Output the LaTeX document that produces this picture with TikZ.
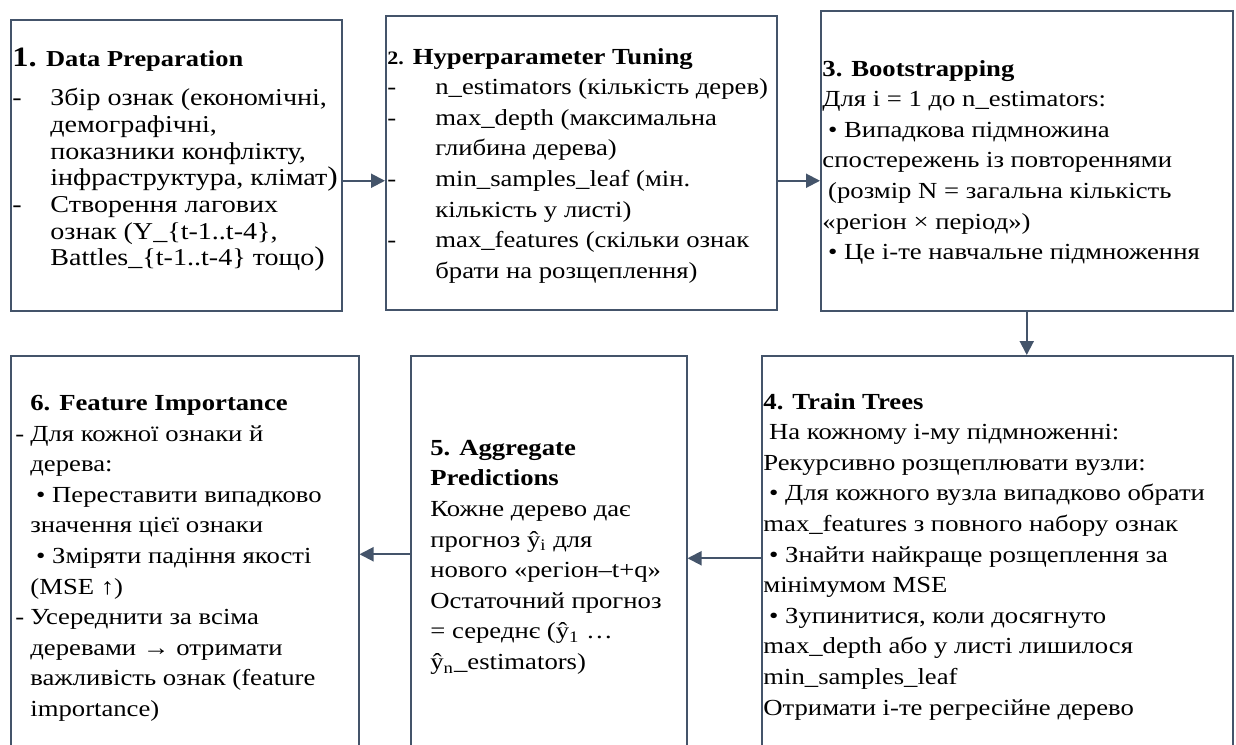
\documentclass[tikz,border=0pt]{standalone}
\usepackage{fontspec}
\setmainfont{Liberation Serif}[FakeStretch=1.16]
\usetikzlibrary{arrows.meta,calc}

\definecolor{flowline}{HTML}{44546A}
\newcommand\dashtab[1]{\makebox[#1][l]{-}}
\newcommand\tabgap[1]{\hspace*{#1}}
\newcommand\lsp{\hspace*{2.9pt}}
\newcommand\bigparen{{\fontsize{13.5}{13.5}\selectfont)}}

\begin{document}
\begin{tikzpicture}[x=1pt,y=-1pt,>={Triangle[length=7pt,width=7pt]},
    stage/.style={draw=flowline,line width=0.75pt,inner sep=0pt,anchor=north west},
    body/.style={align=left,inner sep=0pt,anchor=north west,font=\fontsize{11.5}{15.3}\selectfont},
    flow/.style={->,draw=flowline,line width=1pt}]
  \useasboundingbox (0,0) rectangle (618,372);
  % top row
  \node[stage,minimum width=165.5pt,minimum height=145.5pt] (box1) at (5,9.5) {};
  \node[stage,minimum width=195.5pt,minimum height=147pt] (box2) at (192.5,7.5) {};
  \node[stage,minimum width=206pt,minimum height=150pt] (box3) at (410,5) {};
  % bottom row
  \node[stage,minimum width=174pt,minimum height=202.5pt] (box6) at (5,177.5) {};
  \node[stage,minimum width=138pt,minimum height=202.5pt] (box5) at (205,177.5) {};
  \node[stage,minimum width=235.5pt,minimum height=202.5pt] (box4) at (380.5,177.5) {};

  \node[body,font=\fontsize{12.1}{13.35}\selectfont] (txt1) at ([shift={(1,14.5)}]box1.north west)
    {{\fontsize{14}{14}\selectfont\bfseries 1.} {\fontsize{11.4}{11.4}\selectfont\bfseries Data Preparation}\\[6.1pt]
     \dashtab{19pt}Збір ознак (економічні,\\
     \tabgap{19pt}демографічні,\\
     \tabgap{19pt}показники конфлікту,\\
     \tabgap{19pt}інфраструктура, клімат\bigparen\\
     \dashtab{19pt}Створення лагових\\
     \tabgap{19pt}ознак (Y\_\{t-1..t-4\},\\
     \tabgap{19pt}Battles\_\{t-1..t-4\} тощо\bigparen};
  \node[body] (txt2) at ([shift={(1,16.4)}]box2.north west)
    {{\fontsize{9.5}{9.5}\selectfont\bfseries 2.} \textbf{Hyperparameter Tuning}\\
     \dashtab{24pt}n\_estimators (кількість дерев)\\
     \dashtab{24pt}max\_depth (максимальна\\
     \tabgap{24pt}глибина дерева)\\
     \dashtab{24pt}min\_samples\_leaf (мін.\\
     \tabgap{24pt}кількість у листі)\\
     \dashtab{24pt}max\_features (скільки ознак\\
     \tabgap{24pt}брати на розщеплення)};
  \node[body] (txt3) at ([shift={(1,24.9)}]box3.north west)
    {\textbf{3. Bootstrapping}\\
     Для i = 1 до n\_estimators:\\
     \lsp• Випадкова підмножина\\
     спостережень із повтореннями\\
     \lsp(розмір N = загальна кількість\\
     «регіон × період»)\\
     \lsp• Це і-те навчальне підмноження};
  \node[body] (txt4) at ([shift={(1,18.9)}]box4.north west)
    {\textbf{4. Train Trees}\\
     \lsp На кожному і-му підмноженні:\\
     Рекурсивно розщеплювати вузли:\\
     \lsp• Для кожного вузла випадково обрати\\
     max\_features з повного набору ознак\\
     \lsp• Знайти найкраще розщеплення за\\
     мінімумом MSE\\
     \lsp• Зупинитися, коли досягнуто\\
     max\_depth або у листі лишилося\\
     min\_samples\_leaf\\
     Отримати і-те регресійне дерево};
  \node[body] (txt5) at ([shift={(10,42.4)}]box5.north west)
    {\textbf{5. Aggregate}\\
     \textbf{Predictions}\\
     Кожне дерево дає\\
     прогноз ŷ\textsubscript{i} для\\
     нового «регіон–t+q»\\
     Остаточний прогноз\\
     = середнє (ŷ\textsubscript{1} …\\
     ŷ\textsubscript{n}\_estimators)};
  \node[body] (txt6) at ([shift={(2.5,19.9)}]box6.north west)
    {\tabgap{7.5pt}\textbf{6. Feature Importance}\\
     \dashtab{7.5pt}Для кожної ознаки й\\
     \tabgap{7.5pt}дерева:\\
     \tabgap{7.5pt}\lsp• Переставити випадково\\
     \tabgap{7.5pt}значення цієї ознаки\\
     \tabgap{7.5pt}\lsp• Зміряти падіння якості\\
     \tabgap{7.5pt}(MSE ↑)\\
     \dashtab{7.5pt}Усереднити за всіма\\
     \tabgap{7.5pt}деревами → отримати\\
     \tabgap{7.5pt}важливість ознак (feature\\
     \tabgap{7.5pt}importance)};

  \coordinate (a12) at ([yshift=-7.75pt]box1.east);
  \coordinate (a23) at ([yshift=-9pt]box2.east);
  \coordinate (a56) at ([yshift=2pt]box5.west);
  \draw[flow] (a12) -- (a12 -| box2.west);
  \draw[flow] (a23) -- (a23 -| box3.west);
  \draw[flow] (box3.south) -- (box3.south |- box4.north);
  \draw[flow] (box4.west) -- (box5.east);
  \draw[flow] (a56) -- (a56 -| box6.east);
\end{tikzpicture}
\end{document}
